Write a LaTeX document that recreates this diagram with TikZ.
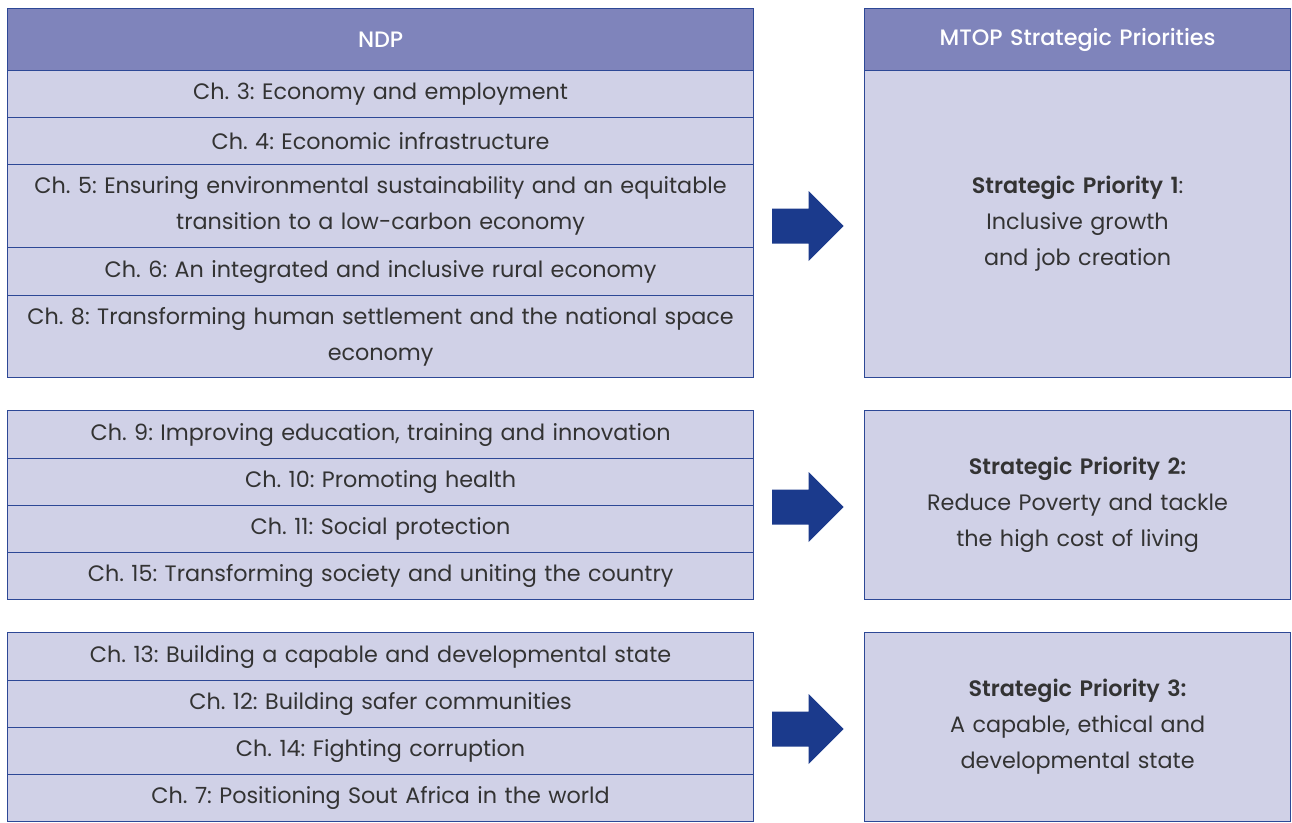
\documentclass[tikz,border=0pt]{standalone}
\usepackage{fontspec}
\setmainfont{Poppins}[BoldFont=* SemiBold]
\newfontfamily\medfont{Poppins}[UprightFont=* Medium]
\usetikzlibrary{positioning}
\frenchspacing
\definecolor{hdr}{HTML}{7F84BB}
\definecolor{rowf}{HTML}{D0D1E7}
\definecolor{bord}{HTML}{2D4896}
\definecolor{arr}{HTML}{1B3A8C}
\definecolor{txt}{HTML}{333333}
\tikzset{
  x=1pt,y=-1pt,
  cell/.style={draw=bord,line width=1.2pt,fill=rowf,text=txt,anchor=north west,
    minimum width=746pt,inner sep=0pt,align=center,text width=740pt,
    font=\fontsize{22.3}{36}\selectfont},
  rcell/.style={cell,minimum width=426pt,text width=416pt},
  hcell/.style={cell,fill=hdr,text=white,font=\fontsize{22.3}{36}\medfont},
  bigarrow/.style={fill=arr}
}
\begin{document}
\begin{tikzpicture}
\useasboundingbox (0,0) rectangle (1292,822);
% group 1
\node[hcell,minimum height=62pt] (ndp) at (7,8) {NDP};
\node[cell,minimum height=47pt] (c3) at (7,70) {Ch. 3: Economy and employment};
\node[cell,minimum height=47pt] (c4) at (7,117) {Ch. 4: Economic infrastructure};
\node[cell,minimum height=83pt] (c5) at (7,164) {Ch. 5: Ensuring environmental sustainability and an equitable\\transition to a low-carbon economy};
\node[cell,minimum height=48pt] (c6) at (7,247) {Ch. 6: An integrated and inclusive rural economy};
\node[cell,minimum height=82pt] (c8) at (7,295) {Ch. 8: Transforming human settlement and the national space\\economy};
\node[hcell,rcell,fill=hdr,text=white,font=\fontsize{22.3}{36}\medfont,minimum height=62pt] (mtop) at (864,8) {MTOP Strategic Priorities};
\node[rcell,minimum height=307pt] (sp1) at (864,70) {\textbf{Strategic Priority 1}:\\Inclusive growth\\and job creation};
% group 2
\node[cell,minimum height=48pt] (c9) at (7,410) {Ch. 9: Improving education, training and innovation};
\node[cell,minimum height=47pt] (c10) at (7,458) {Ch. 10: Promoting health};
\node[cell,minimum height=47pt] (c11) at (7,505) {Ch. 11: Social protection};
\node[cell,minimum height=47pt] (c15) at (7,552) {Ch. 15: Transforming society and uniting the country};
\node[rcell,minimum height=189pt] (sp2) at (864,410) {\textbf{Strategic Priority 2:}\\Reduce Poverty and tackle\\the high cost of living};
% group 3
\node[cell,minimum height=48pt] (c13) at (7,632) {Ch. 13: Building a capable and developmental state};
\node[cell,minimum height=47pt] (c12) at (7,680) {Ch. 12: Building safer communities};
\node[cell,minimum height=47pt] (c14) at (7,727) {Ch. 14: Fighting corruption};
\node[cell,minimum height=47pt] (c7) at (7,774) {Ch. 7: Positioning Sout Africa in the world};
\node[rcell,minimum height=189pt] (sp3) at (864,632) {\textbf{Strategic Priority 3:}\\A capable, ethical and\\developmental state};
% arrows
\foreach \n/\cy in {a1/226,a2/507,a3/729}{
  \coordinate (\n) at (772,\cy);
  \fill[bigarrow] (\n) ++(0,-17.5) -- ++(36.5,0) -- ++(0,-17.5) -- ++(35,35)
    -- ++(-35,35) -- ++(0,-17.5) -- ++(-36.5,0) -- cycle;
}
\end{tikzpicture}
\end{document}
